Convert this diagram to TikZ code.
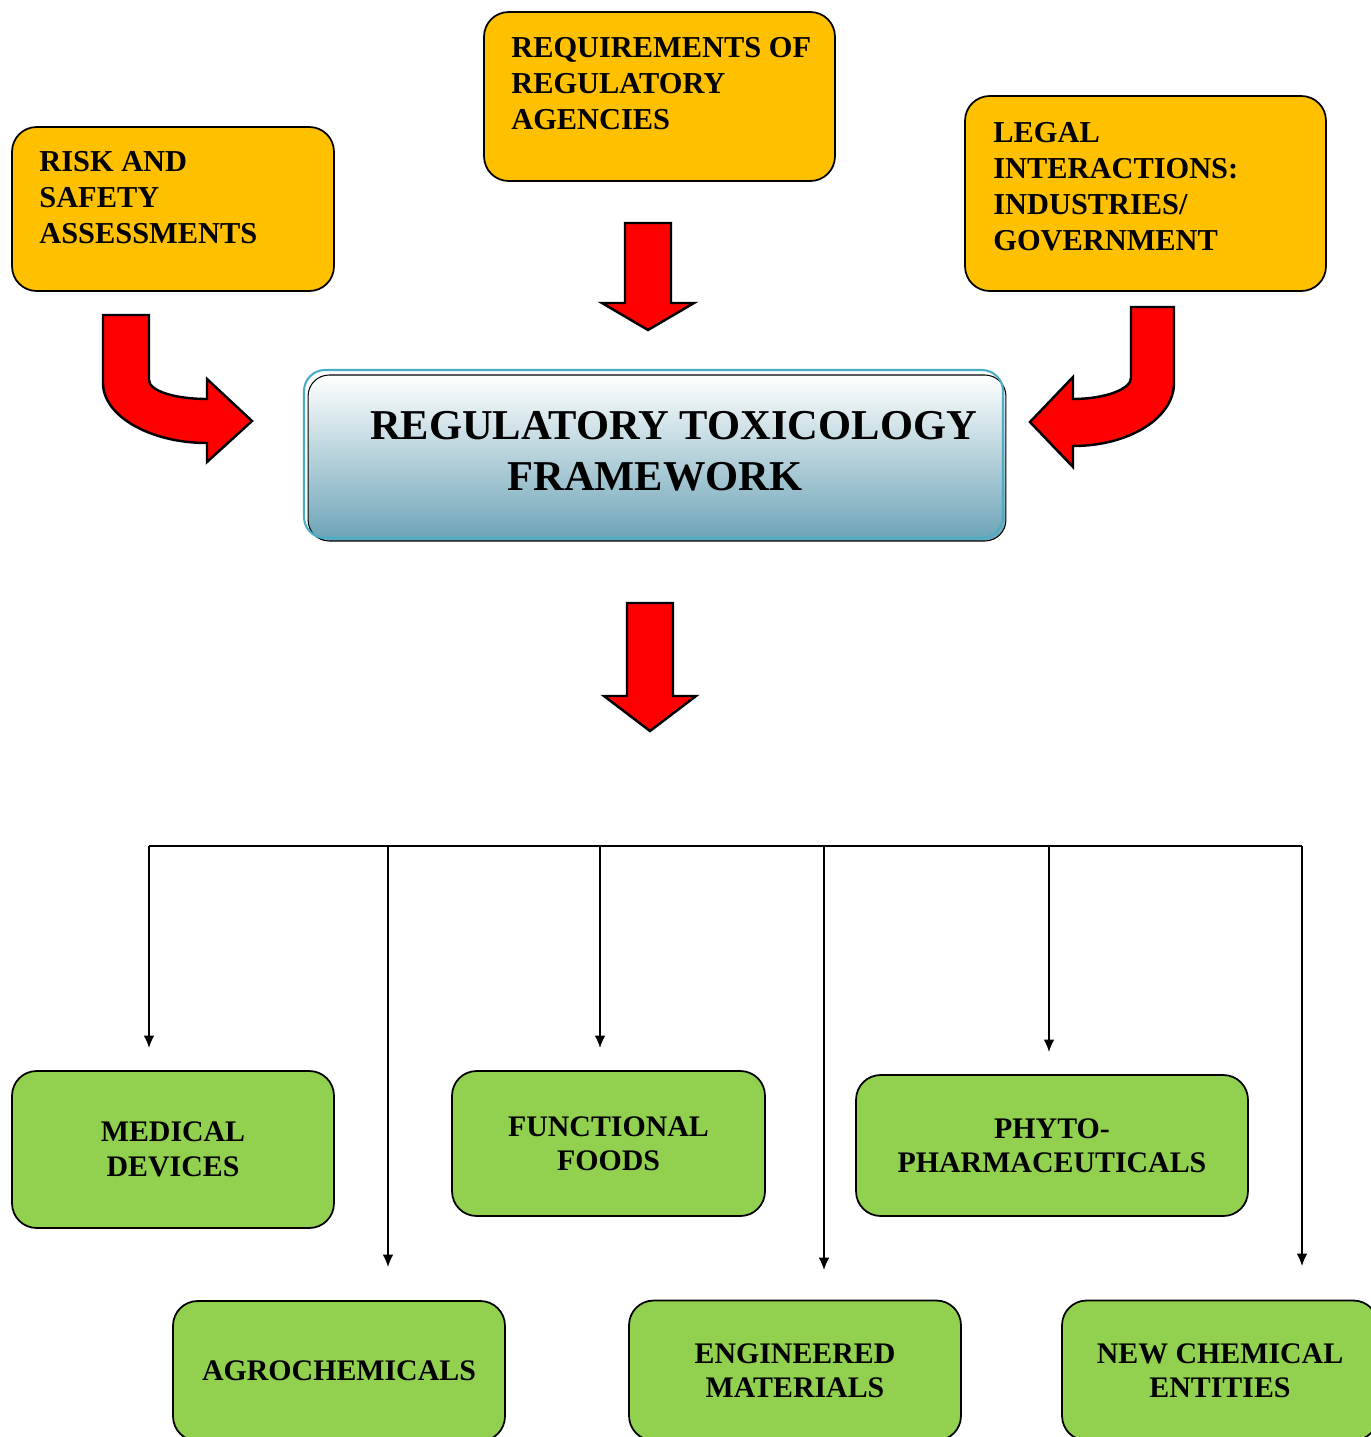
\documentclass[tikz,border=0pt]{standalone}
\usepackage{fontspec}
\setmainfont{Liberation Serif}
\usetikzlibrary{arrows.meta,positioning}
\definecolor{boxorange}{HTML}{FFC000}
\definecolor{boxgreen}{HTML}{92D050}
\definecolor{framelight}{HTML}{4BACC6}
\definecolor{framedark}{HTML}{6BA3B6}
\begin{document}
\begin{tikzpicture}[x=0.02cm,y=-0.02cm,
    obox/.style={draw,line width=1pt,fill=boxorange,rounded corners=14pt,inner sep=0pt},
    otext/.style={align=left,anchor=north west,inner sep=0pt,font=\bfseries\fontsize{17.3}{20.4}\selectfont},
    gbox/.style={draw,line width=1pt,fill=boxgreen,rounded corners=14pt,align=center,inner sep=0pt,
        font=\bfseries\fontsize{17}{19.6}\selectfont},
    frame/.style={draw,line width=0.6pt,rounded corners=12pt,top color=white,bottom color=framedark,inner sep=0pt},
    ftext/.style={align=center,inner sep=0pt,font=\bfseries\fontsize{24.2}{29}\selectfont},
    bigarrow/.style={draw,line width=1.4pt,fill=red,line join=miter},
    feed/.style={-{Latex[length=7pt,width=6pt]},line width=0.8pt}]
    \useasboundingbox (0,0) rectangle (1370,1437);

    % input boxes
    \node[obox,minimum width=6.44cm,minimum height=3.28cm] (risk) at (173,209) {};
    \node[otext] (risk-t) at (39,151) {RISK AND\\SAFETY\\ASSESSMENTS};
    \node[obox,minimum width=7.02cm,minimum height=3.38cm] (req) at (659.5,96.5) {};
    \node[otext] (req-t) at (511,37) {REQUIREMENTS OF\\REGULATORY\\AGENCIES};
    \node[obox,minimum width=7.22cm,minimum height=3.9cm] (legal) at (1145.5,193.5) {};
    \node[otext] (legal-t) at (993,122) {LEGAL\\INTERACTIONS:\\INDUSTRIES/\\GOVERNMENT};

    % framework
    \node[frame,minimum width=13.96cm,minimum height=3.32cm] (frame) at (657,458) {};
    \draw[framelight,line width=1.2pt,rounded corners=12pt] (304,370) rectangle (1003,538);
    \node[ftext] (frame-t) at (655,451) {\hspace*{21pt}REGULATORY TOXICOLOGY\\FRAMEWORK};

    % block arrows
    \draw[bigarrow] (625,223) -- (671,223) -- (671,303) -- (694,303) -- (648,330)
        -- (602,303) -- (625,303) -- cycle;
    \draw[bigarrow] (627,603) -- (673,603) -- (673,696) -- (696,696) -- (650,731)
        -- (604,696) -- (627,696) -- cycle;
    \draw[bigarrow] (103,315) -- (149,315) -- (149,380)
        .. controls (149,391) and (175,399) .. (207,399) -- (207,379) -- (252,421)
        -- (207,462) -- (207,443) .. controls (150,443) and (103,416) .. (103,383) -- cycle;
    \draw[bigarrow] (1174,307) -- (1131,307) -- (1131,378)
        .. controls (1131,389) and (1105,399) .. (1073,399) -- (1073,377) -- (1030,422)
        -- (1073,467) -- (1073,446) .. controls (1129,446) and (1174,418) .. (1174,383) -- cycle;

    % application fields
    \node[gbox,minimum width=6.44cm,minimum height=3.14cm] (med) at (173,1149.5) {MEDICAL\\DEVICES};
    \node[gbox,minimum width=6.26cm,minimum height=2.9cm] (food) at (608.5,1143.5) {FUNCTIONAL\\FOODS};
    \node[gbox,minimum width=7.84cm,minimum height=2.82cm] (phyto) at (1052,1145.5) {PHYTO-\\PHARMACEUTICALS};
    \node[gbox,minimum width=6.64cm,minimum height=2.8cm] (agro) at (339,1371) {AGROCHEMICALS};
    \node[gbox,minimum width=6.64cm,minimum height=2.8cm] (eng) at (795,1370.5) {ENGINEERED\\MATERIALS};
    \node[gbox,minimum width=6.32cm,minimum height=2.8cm] (nce) at (1220,1370.5) {NEW CHEMICAL\\ENTITIES};

    % distribution lines
    \foreach \n/\x/\y in {med/149/1048,agro/388/1267,food/600/1048,eng/824/1270,phyto/1049/1052,nce/1302/1266}{
        \coordinate (bus-\n) at (\x,846);
        \coordinate (tip-\n) at (\x,\y);
        \draw[feed] (bus-\n) -- (tip-\n);
    }
    \draw[line width=0.8pt] (bus-med) -- (bus-nce);
\end{tikzpicture}
\end{document}
